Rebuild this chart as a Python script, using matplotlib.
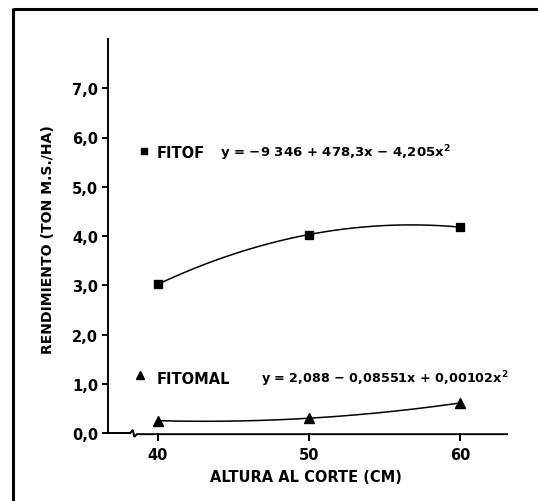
import numpy as np
import matplotlib
matplotlib.use("Agg")
import matplotlib.pyplot as plt
from matplotlib.lines import Line2D

plt.rcParams['font.family'] = ['DejaVu Sans']
plt.rcParams['font.weight'] = 'bold'
plt.rcParams['mathtext.default'] = 'regular'

# ---- data ----
heights = [40, 50, 60]
fitof = [3.02, 4.03, 4.18]
fitomal = [0.25, 0.30, 0.61]
yticks = [0, 1, 2, 3, 4, 5, 6, 7]
ytick_labels = ["0,0", "1,0", "2,0", "3,0", "4,0", "5,0", "6,0", "7,0"]
xtick_labels = ["40", "50", "60"]
fitof_label = "FITOF"
fitof_eq = "y = \u22129 346 + 478,3x \u2212 4,205x$^{2}$"
fitomal_label = "FITOMAL"
fitomal_eq = "y = 2,088 \u2212 0,08551x + 0,00102x$^{2}$"
ylabel = "RENDIMIENTO (TON M.S./HA)"
xlabel = "ALTURA AL CORTE (CM)"

W, H = 538, 502
X0, PXX, PXY = 36.7, 15.1, 49.3
fig = plt.figure(figsize=(W / 100, H / 100), dpi=100)
ax = fig.add_axes([108 / W, 1 - 434 / H, (507 - 108) / W, (434 - 40) / H])

ax.set_xlim(X0, 63.1)
ax.set_ylim(0, 8)

def px_x(p):
    return X0 + (p - 108) / PXX

def px_y(p):
    return (434 - p) / PXY

# fitted quadratic trend curves through the points
xs = np.linspace(heights[0], heights[-1], 200)
for vals, mk, ms in [(fitof, 's', 6), (fitomal, '^', 6.5)]:
    c = np.polyfit(heights, vals, 2)
    ax.plot(xs, np.polyval(c, xs), color='black', lw=1.1)
    ax.plot(heights, vals, linestyle='none', marker=mk, color='black', ms=ms)

# spines
for s in ['top', 'right', 'bottom']:
    ax.spines[s].set_visible(False)
ax.spines['left'].set_linewidth(1.4)

# bottom axis with break
lw = 1.4
ax.add_line(Line2D([0, 0.056, 0.062, 0.066, 0.072, 1.0],
                   [0, 0, 0.008, -0.01, -0.003, -0.003],
                   transform=ax.transAxes, color='black', lw=lw,
                   clip_on=False, solid_joinstyle='miter'))

ax.set_yticks(yticks)
ax.set_yticklabels(ytick_labels)
ax.set_xticks(heights)
ax.set_xticklabels(xtick_labels)
ax.tick_params(axis='y', direction='out', length=4, width=1.4, pad=3,
               labelsize=10.5)
ax.tick_params(axis='x', direction='out', length=6, width=1.4, pad=4,
               labelsize=10.5)
for t in ax.get_xticklabels() + ax.get_yticklabels():
    t.set_fontweight('bold')

# legend-like annotations
fs = 10.5
ax.plot([px_x(143.5)], [px_y(152)], marker='s', color='black', ms=5,
        clip_on=False)
ax.text(px_x(157), px_y(153), fitof_label,
        fontsize=fs, fontweight='bold', va='center', ha='left')
ax.text(px_x(220), px_y(153), fitof_eq,
        fontsize=9.5, fontweight='bold', va='center', ha='left')

ax.plot([px_x(140)], [px_y(376)], marker='^', color='black', ms=5.5,
        clip_on=False)
ax.text(px_x(157), px_y(379), fitomal_label,
        fontsize=fs, fontweight='bold', va='center', ha='left')
ax.text(px_x(261), px_y(379), fitomal_eq,
        fontsize=9.2, fontweight='bold', va='center', ha='left')

fig.text(48 / W, 1 - 240 / H, ylabel, rotation=90, ha='center',
         va='center', fontsize=10.1, fontweight='bold')
fig.text(306 / W, 1 - 478 / H, xlabel, ha='center', va='center',
         fontsize=fs, fontweight='bold')

# frame (top & left)
fig.add_artist(Line2D([13 / W, 1.0], [1 - 10 / H, 1 - 10 / H],
                      transform=fig.transFigure, color='black', lw=2.2,
                      solid_capstyle='butt'))
fig.add_artist(Line2D([13 / W, 13 / W], [1 - 9 / H, 0],
                      transform=fig.transFigure, color='black', lw=2.2,
                      solid_capstyle='butt'))

fig.savefig("out.png", dpi=100)
